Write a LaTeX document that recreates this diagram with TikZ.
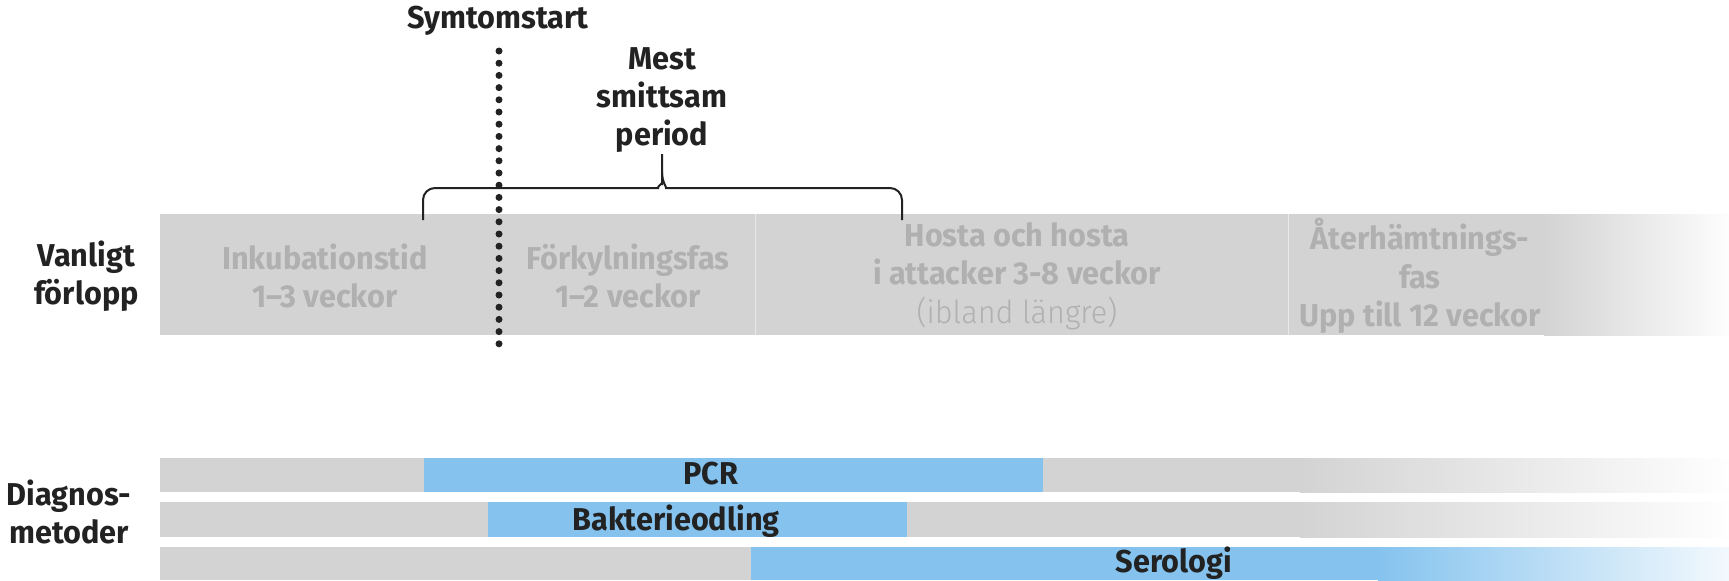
\documentclass[tikz,border=0pt]{standalone}
\usepackage{fontspec}
\setmainfont{Fira Sans}[FakeStretch=0.97]
\newfontfamily\lightfont{Fira Sans}[UprightFont={* Light},FakeStretch=0.97]
\definecolor{barGray}{RGB}{211,211,211}
\definecolor{barBlue}{RGB}{133,195,238}
\definecolor{phaseGray}{RGB}{176,176,176}
\definecolor{ink}{RGB}{34,34,34}
\begin{document}
\begin{tikzpicture}[x=0.5pt,y=-0.5pt,
  every node/.style = {align=center, inner sep=0pt,
    font=\fontsize{15.8}{19.2}\selectfont\bfseries},
  phase/.style = {text=phaseGray},
  rowlabel/.style = {text=ink},
  method/.style = {text=ink}]
  \useasboundingbox (0,0) rectangle (1729,580);

  % vanligt forlopp
  \fill[barGray] (160,214) rectangle (1545,335);
  \shade[left color=barGray, right color=white!96!barGray] (1544,214) rectangle (1729,335);
  \draw[white!50!barGray, line width=0.5pt] (755,214) -- (755,335) (1288,214) -- (1288,335);

  \node[phase] (inkub) at (325,276) {Inkubationstid\\1–3 veckor};
  \node[phase] (forkyl) at (628,276) {Förkylningsfas\\1–2 veckor};
  \node[phase] (hosta) at (1017,276) {Hosta och hosta\\i attacker 3-8 veckor\\{\lightfont\mdseries (ibland längre)}};
  \node[phase] (ater) at (1420,276) {Återhämtnings-\\fas\\Upp till 12 veckor};
  \node[rowlabel, anchor=east] (vanligt) at (139,276) {Vanligt\\förlopp};

  % diagnosmetoder
  \fill[barGray] (160,458) rectangle (1301,492);
  \shade[left color=barGray, right color=white!98!barGray] (1300,458) rectangle (1729,492);
  \fill[barBlue] (424,458) rectangle (1043,492);
  \fill[barGray] (160,502) rectangle (1301,537);
  \shade[left color=barGray, right color=white!98!barGray] (1300,502) rectangle (1729,537);
  \fill[barBlue] (488,502) rectangle (907,537);
  \fill[barGray] (160,547) rectangle (751,580);
  \fill[barBlue] (751,547) rectangle (1379,580);
  \shade[left color=barBlue, right color=white!90!barBlue] (1378,547) rectangle (1729,580);

  \node[method] (pcr) at (711,474) {PCR};
  \node[method] (odling) at (676,521) {Bakterieodling};
  \node[method] (serologi) at (1174,563) {Serologi};
  \node[rowlabel] (diagnos) at (69,512) {Diagnos-\\metoder};

  % symtomstart och smittsam period
  \node[rowlabel] (symtom) at (498,21) {Symtomstart};
  \node[rowlabel] (mest) at (662,100) {Mest\\smittsam\\period};
  \coordinate (dotTop) at (499,51);
  \coordinate (dotBot) at (499,348);
  \draw[ink, line width=3.5pt, line cap=round, dash pattern=on 0pt off 6.1pt] (dotTop) -- (dotBot);

  \coordinate (braceL) at (423,220);
  \coordinate (braceR) at (902,220);
  \coordinate (braceTip) at (662,154);
  \draw[ink, line width=1pt, rounded corners=6pt]
    (braceL) -- (423,188) -- (646,188) .. controls (657,188) and (662,182) .. (662,172)
    -- (braceTip);
  \draw[ink, line width=1pt, rounded corners=6pt]
    (braceR) -- (902,188) -- (678,188) .. controls (667,188) and (662,182) .. (662,172);
\end{tikzpicture}
\end{document}
